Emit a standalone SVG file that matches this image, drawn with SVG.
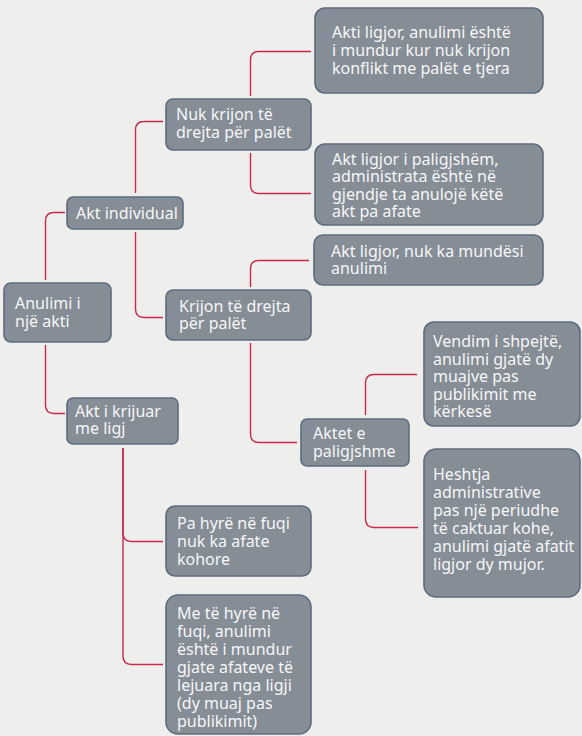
<svg xmlns="http://www.w3.org/2000/svg" width="582" height="736" viewBox="0 0 582 736">
<style>
.bg{fill:#eeeeec}
.n rect{fill:#858d97;stroke:#5e6c7e;stroke-width:1.6}
.n text{fill:#f6f6f6;font-family:"Noto Sans","Open Sans","DejaVu Sans",sans-serif;font-size:16px}
.c path{fill:none;stroke:#c92a4c;stroke-width:1.4}
</style>
<rect class="bg" x="0" y="0" width="582" height="736"/>
<g class="c" id="connectors">
<path d="M45.5 280 V221 Q45.5 212.5 54 212.5 H65"/>
<path d="M45.5 345 V405 Q45.5 413.5 54 413.5 H65"/>
<path d="M135.5 193 V130 Q135.5 121.5 144 121.5 H163"/>
<path d="M135.5 232 V309 Q135.5 317.5 144 317.5 H163"/>
<path d="M250.5 96 V60 Q250.5 51.5 259 51.5 H311"/>
<path d="M250.5 153 V185 Q250.5 193.5 259 193.5 H311"/>
<path d="M250.5 287 V269 Q250.5 260.5 259 260.5 H309"/>
<path d="M250.5 343 V434 Q250.5 442.5 259 442.5 H297"/>
<path d="M365.5 415 V383 Q365.5 374.5 374 374.5 H417"/>
<path d="M365.5 470 V519 Q365.5 527.5 374 527.5 H418"/>
<path d="M123 448 V533 Q123 541.5 131.5 541.5 H163"/>
<path d="M123 448 V656 Q123 664.5 131.5 664.5 H163"/>
</g>
<g class="n" id="n-anulimi"><rect x="4" y="283" width="107" height="59" rx="7"/><text x="15" y="309">Anulimi i</text><text x="15" y="327">një akti</text></g>
<g class="n" id="n-individual"><rect x="67" y="197" width="116" height="32" rx="6"/><text x="76" y="219">Akt individual</text></g>
<g class="n" id="n-nukkrijon"><rect x="166" y="99" width="145" height="51" rx="7"/><text x="176" y="120">Nuk krijon të</text><text x="176" y="138">drejta për palët</text></g>
<g class="n" id="n-akti-ligjor1"><rect x="315" y="8" width="228" height="85" rx="10"/><text x="332" y="38">Akti ligjor, anulimi është</text><text x="332" y="56">i mundur kur nuk krijon</text><text x="332" y="74">konflikt me palët e tjera</text></g>
<g class="n" id="n-akt-paligjshem"><rect x="315" y="144" width="228" height="81" rx="10"/><text x="332" y="165">Akt ligjor i paligjshëm,</text><text x="332" y="182">administrata është në</text><text x="332" y="199.5">gjendje ta anulojë këtë</text><text x="332" y="217">akt pa afate</text></g>
<g class="n" id="n-akt-ligjor2"><rect x="314" y="235" width="229" height="50" rx="9"/><text x="331" y="257">Akt ligjor, nuk ka mundësi</text><text x="331" y="274">anulimi</text></g>
<g class="n" id="n-krijon"><rect x="166" y="290" width="145" height="50" rx="7"/><text x="179" y="312">Krijon të drejta</text><text x="179" y="329">për palët</text></g>
<g class="n" id="n-krijuar"><rect x="67" y="398" width="111" height="46" rx="6"/><text x="75" y="417">Akt i krijuar</text><text x="75" y="434">me ligj</text></g>
<g class="n" id="n-aktet"><rect x="301" y="419" width="108" height="47" rx="6"/><text x="313" y="439">Aktet e</text><text x="313" y="457">paligjshme</text></g>
<g class="n" id="n-vendim"><rect x="424" y="322" width="156" height="104" rx="10"/><text x="433" y="347">Vendim i shpejtë,</text><text x="433" y="364.5">anulimi gjatë dy</text><text x="433" y="382">muajve pas</text><text x="433" y="399.5">publikimit me</text><text x="433" y="417">kërkesë</text></g>
<g class="n" id="n-heshtja"><rect x="424" y="449" width="156" height="148" rx="12"/><text x="433" y="480">Heshtja</text><text x="433" y="498">administrative</text><text x="433" y="516">pas një periudhe</text><text x="433" y="533.5">të caktuar kohe,</text><text x="433" y="551.5">anulimi gjatë afatit</text><text x="433" y="569.5">ligjor dy mujor.</text></g>
<g class="n" id="n-pahyre"><rect x="166" y="506" width="145" height="70" rx="9"/><text x="177" y="529">Pa hyrë në fuqi</text><text x="177" y="547">nuk ka afate</text><text x="177" y="564.5">kohore</text></g>
<g class="n" id="n-mehyre"><rect x="166" y="595" width="145" height="139" rx="12"/><text x="177" y="619">Me të hyrë në</text><text x="177" y="637">fuqi, anulimi</text><text x="177" y="655">është i mundur</text><text x="177" y="673">gjate afateve të</text><text x="177" y="691">lejuara nga ligji</text><text x="177" y="709">(dy muaj pas</text><text x="177" y="727">publikimit)</text></g>
</svg>
